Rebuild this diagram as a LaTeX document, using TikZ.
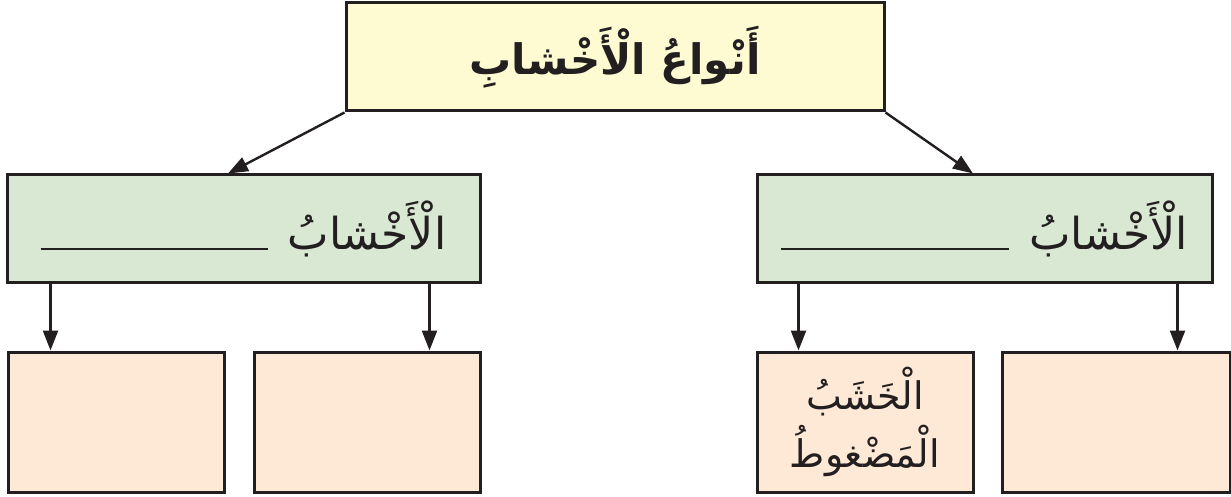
\documentclass[tikz,border=0pt]{standalone}
\usepackage{fontspec}
\newfontfamily\arabicfont[Script=Arabic]{DejaVu Sans}
\TeXXeTstate=1
\usetikzlibrary{arrows.meta}

\definecolor{woodtop}{RGB}{254,251,211}
\definecolor{woodkind}{RGB}{216,232,211}
\definecolor{woodleaf}{RGB}{253,233,214}
\definecolor{inkline}{RGB}{35,31,32}

\tikzset{
    woodbox/.style={draw=inkline, line width=1.5pt, inner sep=0pt, text=inkline},
    topbox/.style={woodbox, fill=woodtop, minimum width=269pt, minimum height=54pt,
        font=\arabicfont\bfseries\fontsize{21}{28}\selectfont},
    kindbox/.style={woodbox, fill=woodkind, minimum height=54pt,
        font=\arabicfont\fontsize{22}{30}\selectfont},
    leafbox/.style={woodbox, fill=woodleaf, minimum height=70pt, align=center,
        font=\arabicfont\fontsize{19}{29}\selectfont},
    woodarrow/.style={draw=inkline, line width=1.2pt, -{Triangle[length=10pt, width=7.5pt]}}
}

\begin{document}
\begin{tikzpicture}[x=0.5pt, y=-0.5pt]
            \useasboundingbox (0,0) rectangle (1231,497);

            \node[topbox] (top) at (615,57) {\beginR أَنْواعُ الْأَخْشابِ\endR};

            \node[kindbox, minimum width=236.5pt] (kindL) at (243.5,229)
                {\beginR الْأَخْشابُ\hspace{10pt}\rule{113.5pt}{0.6pt}\endR};
            \node[kindbox, minimum width=227.5pt] (kindR) at (984.5,229)
                {\beginR الْأَخْشابُ\hspace{10pt}\rule{114pt}{0.6pt}\endR};

            \node[leafbox, minimum width=108pt] (leafA) at (116,422) {};
            \node[leafbox, minimum width=113pt] (leafB) at (367,422) {};
            \node[leafbox, minimum width=108pt] (leafC) at (865,422)
                {\beginR الْخَشَبُ\endR\\ \beginR الْمَضْغوطُ\endR};
            \node[leafbox, minimum width=114pt] (leafD) at (1116,422) {};

            \draw[woodarrow] (top.south west) -- ([shift={(-15.5,0)}]kindL.north);
            \draw[woodarrow] (top.south east) -- ([shift={(-11.5,0)}]kindR.north);

            \draw[woodarrow] ([shift={(45,0)}]kindL.south west) -- ([shift={(45,0)}]kindL.south west |- leafA.north);
            \draw[woodarrow] ([shift={(-52,0)}]kindL.south east) -- ([shift={(-52,0)}]kindL.south east |- leafB.north);
            \draw[woodarrow] ([shift={(43,0)}]kindR.south west) -- ([shift={(43,0)}]kindR.south west |- leafC.north);
            \draw[woodarrow] ([shift={(-36,0)}]kindR.south east) -- ([shift={(-36,0)}]kindR.south east |- leafD.north);
\end{tikzpicture}
\end{document}
